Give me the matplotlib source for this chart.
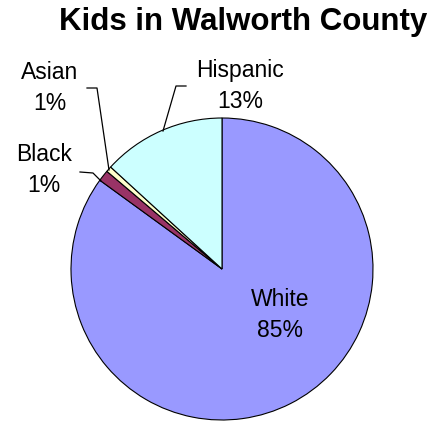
import matplotlib
matplotlib.use("Agg")
import matplotlib.pyplot as plt

plt.rcParams['font.family'] = ['Liberation Sans', 'DejaVu Sans']

# data
groups = ['White', 'Black', 'Asian', 'Hispanic']
shares = [85.0, 1.2, 0.6, 13.2]
colors = ['#9999FF', '#993366', '#FFFFCC', '#CCFFFF']

W, H = 437, 424
fig = plt.figure(figsize=(W / 100, H / 100), dpi=100)

# pie centre and radius in pixels (from top-left)
cx, cy, r = 222, 269, 151
ax = fig.add_axes([(cx - r) / W, (H - cy - r) / H, 2 * r / W, 2 * r / H])
ax.pie(shares, colors=colors, startangle=90, counterclock=False, radius=1,
       wedgeprops=dict(edgecolor='black', linewidth=0.8))
ax.set_xlim(-1, 1)
ax.set_ylim(-1, 1)
ax.set_aspect('equal')
ax.axis('off')


def px(x, y):
    return (x - cx) / r, (cy - y) / r


# label positions (pixel coords) and leader lines
label_pos = {'White': (280, 315), 'Black': (44, 170), 'Asian': (50, 88), 'Hispanic': (240, 86)}
total = sum(shares)
for g, s in zip(groups, shares):
    x, y = px(*label_pos[g])
    ax.text(x, y, f"{g}\n{s / total * 100:.0f}%", ha='center', va='center',
            fontsize=16.5, linespacing=1.4, clip_on=False)

leaders = [
    [(80, 172), (93, 173), (101, 181)],
    [(87, 88), (97, 88), (109, 170)],
    [(186, 86), (176, 86), (163, 131)],
]
for pts in leaders:
    xs, ys = zip(*[px(*p) for p in pts])
    ax.plot(xs, ys, color='black', linewidth=0.9, clip_on=False)

fig.text(243 / W, 1 - 22 / H, "Kids in Walworth County", ha='center', va='center',
         fontsize=22.5, fontweight='bold')

fig.savefig("out.png", dpi=100)
